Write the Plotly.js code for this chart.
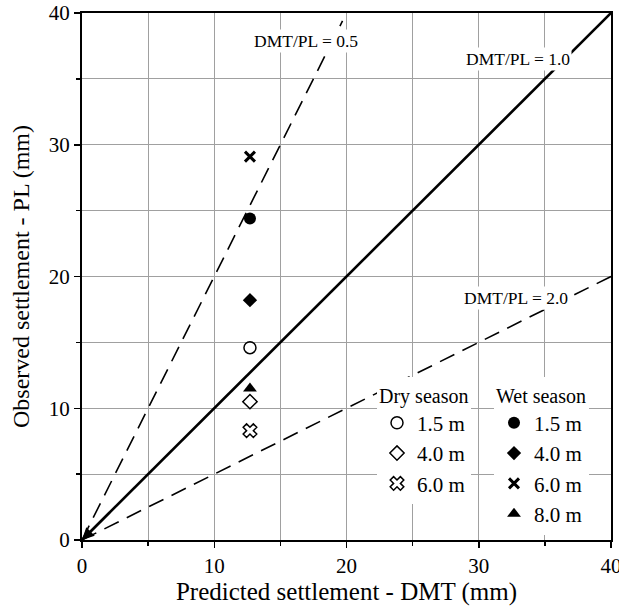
<!DOCTYPE html>
<html>
<head>
<meta charset="utf-8">
<script src="https://cdn.plot.ly/plotly-3.0.1.min.js"></script>
<style>html,body{margin:0;padding:0;background:#fff;}#chart{width:619px;height:616px;}</style>
</head>
<body>
<div id="chart"></div>
<script>
// Data
const depthLabels = ["1.5 m", "4.0 m", "6.0 m", "8.0 m"];
const dryDMT = [12.7, 12.7, 12.7];
const dryPL = [14.6, 10.5, 8.3];
const wetDMT = [12.7, 12.7, 12.7, 12.7];
const wetPL = [24.4, 18.2, 29.1, 11.5];
const ratioLabels = ["DMT/PL = 0.5", "DMT/PL = 1.0", "DMT/PL = 2.0"];
const line05X = [0, 19.7], line05Y = [0, 39.4];
const line10X = [0, 40], line10Y = [0, 40];
const line20X = [0, 40], line20Y = [0, 20];
const axisTicks = [0, 10, 20, 30, 40];

const serif = "Liberation Serif, Times New Roman, serif";
const drySymbols = ["circle-open", "diamond-open", "x-open"];
const wetSymbols = ["circle", "diamond", "x-thin", "triangle-up"];
const drySizes = [12, 11, 12];
const wetSizes = [12, 11, 10, 12];
const wetLineW = [0, 0, 3, 0];

const traces = [];
traces.push({x: line05X, y: line05Y, mode: "lines", line: {color: "#000", width: 1.6, dash: "16px,9px"}, showlegend: false, hoverinfo: "skip"});
traces.push({x: line20X, y: line20Y, mode: "lines", line: {color: "#000", width: 1.6, dash: "16px,9px"}, showlegend: false, hoverinfo: "skip"});
traces.push({x: line10X, y: line10Y, mode: "lines", line: {color: "#000", width: 2.6}, showlegend: false, hoverinfo: "skip"});

for (let i = 0; i < dryPL.length; i++) {
  traces.push({x: [dryDMT[i]], y: [dryPL[i]], mode: "markers", name: depthLabels[i], legend: "legend",
    marker: {symbol: drySymbols[i], size: drySizes[i], color: "#000", line: {color: "#000", width: 1.5}}});
}
for (let i = 0; i < wetPL.length; i++) {
  traces.push({x: [wetDMT[i]], y: [wetPL[i]], mode: "markers", name: depthLabels[i], legend: "legend2",
    marker: {symbol: wetSymbols[i], size: wetSizes[i], color: "#000", line: {color: "#000", width: wetLineW[i]}}});
}

const annFont = {family: serif, size: 17.5, color: "#000"};
const axisCommon = {
  range: [0, 40], tickvals: axisTicks, ticks: "outside", ticklen: 6, tickwidth: 1.5, tickcolor: "#000",
  showline: true, linecolor: "#000", linewidth: 2, mirror: true,
  showgrid: true, gridcolor: "#a0a0a0", gridwidth: 1, zeroline: false,
  ticklabeloverflow: "allow",
  minor: {dtick: 5, tick0: 0, ticks: "outside", ticklen: 4, tickcolor: "#000", showgrid: true, gridcolor: "#a0a0a0", gridwidth: 1},
  tickfont: {family: serif, size: 21, color: "#000"}
};

const legendFont = {family: serif, size: 21, color: "#000"};
const layout = {
  width: 619, height: 616,
  margin: {l: 82, r: 8, t: 13, b: 76},
  paper_bgcolor: "#fff", plot_bgcolor: "#fff",
  font: {family: serif, color: "#000"},
  xaxis: Object.assign({}, axisCommon, {title: {text: "Predicted settlement - DMT (mm)", font: {family: serif, size: 25}, standoff: 3}}),
  yaxis: Object.assign({}, axisCommon, {title: {text: "Observed settlement - PL (mm)", font: {family: serif, size: 24}, standoff: 12}}),
  legend: {title: {text: "Dry season", font: {family: serif, size: 20}}, font: legendFont,
    x: (377 - 82) / 529, y: 0.31, xanchor: "left", yanchor: "top", bgcolor: "#fff", borderwidth: 0, tracegroupgap: 0, itemwidth: 30},
  legend2: {title: {text: "Wet season", font: {family: serif, size: 20}}, font: legendFont,
    x: (494 - 82) / 529, y: 0.31, xanchor: "left", yanchor: "top", bgcolor: "#fff", borderwidth: 0, tracegroupgap: 0, itemwidth: 30},
  annotations: [
    {x: 16.9, y: 37.9, text: ratioLabels[0], showarrow: false, font: annFont, bgcolor: "#fff"},
    {x: 33.0, y: 36.5, text: ratioLabels[1], showarrow: false, font: annFont, bgcolor: "#fff"},
    {x: 32.8, y: 18.4, text: ratioLabels[2], showarrow: false, font: annFont, bgcolor: "#fff"},
    {x: line10X[0], y: line10Y[0], ax: 2.2, ay: 2.2, axref: "x", ayref: "y", text: "", showarrow: true, arrowhead: 2, arrowsize: 1, arrowwidth: 2.4, arrowcolor: "#000"}
  ],
  showlegend: true
};

Plotly.newPlot("chart", traces, layout, {displayModeBar: false, staticPlot: true});
</script>
</body>
</html>
